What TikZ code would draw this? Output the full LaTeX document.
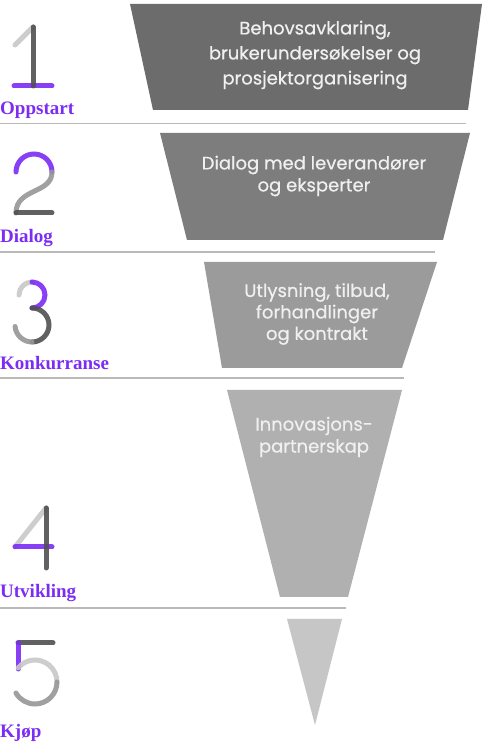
\documentclass[tikz,border=0pt]{standalone}
\usepackage{fontspec}
\setmainfont{Liberation Serif}
\newfontfamily\boxfont{Poppins}[FakeBold=0.6]
\definecolor{vio}{RGB}{123,44,245}
\definecolor{dk}{RGB}{80,80,80}
\definecolor{md}{RGB}{150,150,150}
\definecolor{lt}{RGB}{200,200,200}
\definecolor{sep}{RGB}{185,185,185}
\definecolor{txt}{RGB}{240,240,240}
\tikzset{
  seg/.style={line width=5pt, line cap=round, opacity=0.9},
  lab/.style={anchor=base west, inner sep=0pt, text=vio, font=\fontsize{19}{22}\selectfont\bfseries},
  sepline/.style={draw=sep, line width=1.5pt},
  boxtext/.style={text=txt, align=center, inner sep=0pt, font=\boxfont\fontsize{18}{25}\selectfont}
}
\begin{document}
\begin{tikzpicture}[x=1pt,y=1pt]
\useasboundingbox[fill=white] (0,0) rectangle (489,744);
% funnel pieces
\fill[fill={rgb,255:red,108;green,108;blue,108}] (130,740) -- (482,740) -- (468,634) -- (153,634) -- cycle;
\fill[fill={rgb,255:red,125;green,125;blue,125}] (160,611) -- (470,611) -- (443,504) -- (187,504) -- cycle;
\fill[fill={rgb,255:red,155;green,155;blue,155}] (204,482) -- (437,482) -- (402,376) -- (222,376) -- cycle;
\fill[fill={rgb,255:red,176;green,176;blue,176}] (227,354) -- (402,354) -- (348,147) -- (280,147) -- cycle;
\fill[fill={rgb,255:red,198;green,198;blue,198}] (287,125) -- (342,125) -- (315,19) -- cycle;
% texts
\node[boxtext] (t1) at (315,689) {Behovsavklaring,\\brukerundersøkelser og\\prosjektorganisering};
\node[boxtext, font=\boxfont\fontsize{18}{22}\selectfont] (t2) at (314,568) {Dialog med leverandører\\og eksperter};
\node[boxtext, font=\boxfont\fontsize{18}{21.5}\selectfont] (t3) at (317,430) {Utlysning, tilbud,\\forhandlinger\\og kontrakt};
\node[boxtext, font=\boxfont\fontsize{18}{22}\selectfont] (t4) at (314,307) {Innovasjons-\\partnerskap};
% separators
\coordinate (s1a) at (0,620.5); \coordinate (s1b) at (466,620.5);
\coordinate (s2a) at (0,492); \coordinate (s2b) at (435,492);
\coordinate (s3a) at (0,366); \coordinate (s3b) at (404,366);
\coordinate (s4a) at (0,136); \coordinate (s4b) at (346,136);
\draw[sepline] (s1a) -- (s1b);
\draw[sepline] (s2a) -- (s2b);
\draw[sepline] (s3a) -- (s3b);
\draw[sepline] (s4a) -- (s4b);
% labels
\node[lab] (l1) at (0,629) {Oppstart};
\node[lab] (l2) at (0,501) {Dialog};
\node[lab] (l3) at (0,374) {Konkurranse};
\node[lab] (l4) at (0,146) {Utvikling};
\node[lab] (l5) at (0,6) {Kjøp};
% digit 1
\draw[seg, vio] (14,658) -- (52,658);
\draw[seg, lt] (15,699) -- (33,717);
\draw[seg, dk] (33,717) -- (33,658);
% digit 2
\draw[seg, vio] (16,572) arc[start angle=180, end angle=0, radius=18];
\draw[seg, md] (52,572) .. controls (52,550) and (16,556) .. (16,531);
\draw[seg, dk] (16,531) -- (52,531);
% digit 3
\draw[seg, lt] (19,449) arc[start angle=180, end angle=90, radius=13];
\draw[seg, vio] (32,462) arc[start angle=90, end angle=-90, radius=13];
\draw[seg, dk] (32,436) arc[start angle=90, end angle=-90, radius=17];
\draw[seg, md] (32,402) arc[start angle=-90, end angle=-175, radius=17];
% digit 4
\draw[seg, lt] (46,236) -- (15,197);
\draw[seg, vio] (15,197) -- (52,197);
\draw[seg, dk] (46,236) -- (46,176);
% digit 5
\draw[seg, dk] (18,101) -- (53,101);
\draw[seg, vio] (18,101) -- (18,75);
\draw[seg, lt] (35,62) ++(140:22) arc[start angle=140, end angle=0, radius=22];
\draw[seg, md] (57,62) arc[start angle=0, end angle=-150, radius=22];
\end{tikzpicture}
\end{document}
